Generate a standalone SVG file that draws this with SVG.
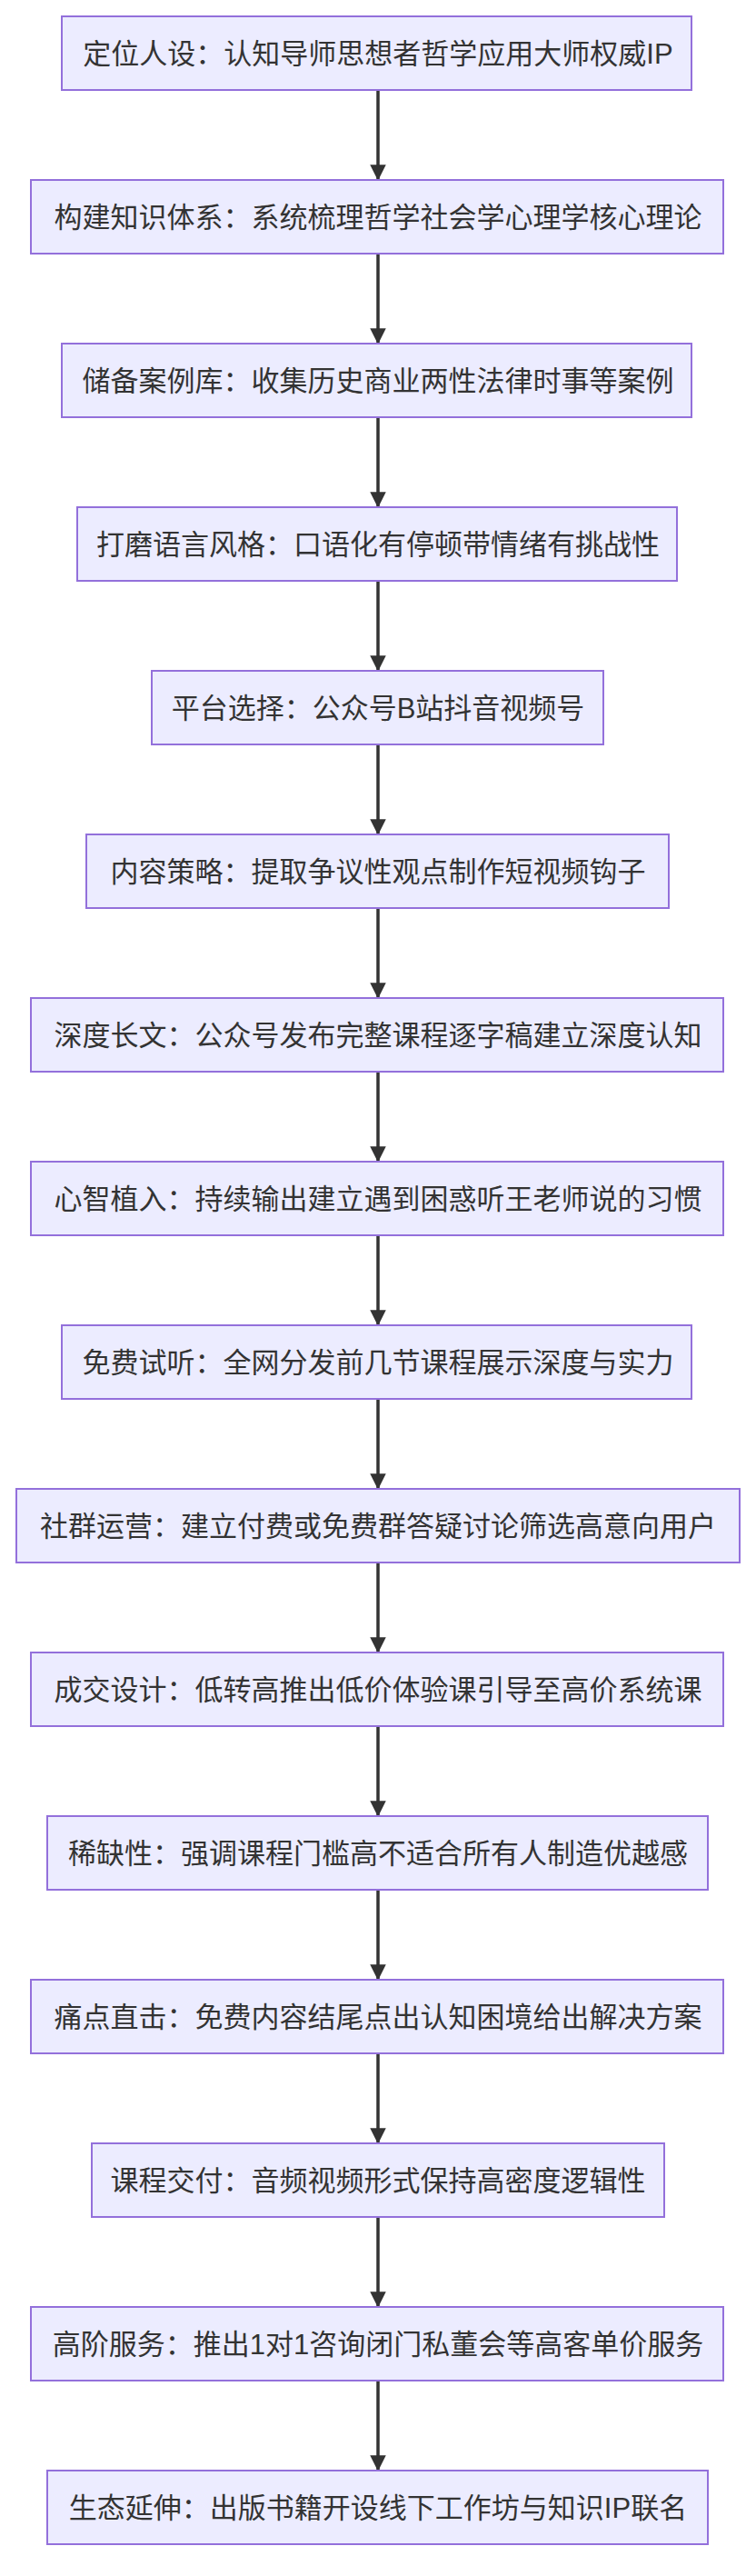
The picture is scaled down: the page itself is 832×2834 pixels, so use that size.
<svg xmlns="http://www.w3.org/2000/svg" width="832" height="2834" viewBox="0 0 832 2834">
<style>
.n rect{fill:#ECECFF;stroke:#9370DB;stroke-width:2}
.n text{font-family:"Liberation Sans","Noto Sans CJK SC",sans-serif;font-size:31px;fill:#333;text-anchor:middle;dominant-baseline:central}
.e line{stroke:#333;stroke-width:3.5;marker-end:url(#a)}
</style>
<defs><marker id="a" viewBox="0 0 10 10" refX="9" refY="5" markerWidth="5" markerHeight="5" orient="auto" markerUnits="strokeWidth"><path d="M0,0L10,5L0,10z" fill="#333"/></marker></defs>
<rect width="832" height="2834" fill="#fff"/>
<g class="e">
<line x1="416" y1="99" x2="416" y2="197"/>
<line x1="416" y1="279" x2="416" y2="377"/>
<line x1="416" y1="459" x2="416" y2="557"/>
<line x1="416" y1="639" x2="416" y2="737"/>
<line x1="416" y1="819" x2="416" y2="917"/>
<line x1="416" y1="999" x2="416" y2="1097"/>
<line x1="416" y1="1179" x2="416" y2="1277"/>
<line x1="416" y1="1359" x2="416" y2="1457"/>
<line x1="416" y1="1539" x2="416" y2="1637"/>
<line x1="416" y1="1719" x2="416" y2="1817"/>
<line x1="416" y1="1899" x2="416" y2="1997"/>
<line x1="416" y1="2079" x2="416" y2="2177"/>
<line x1="416" y1="2259" x2="416" y2="2357"/>
<line x1="416" y1="2439" x2="416" y2="2537"/>
<line x1="416" y1="2619" x2="416" y2="2717"/>
</g>
<g class="n" id="n1"><rect x="68" y="18" width="693" height="81"/><text x="416" y="59">定位人设：认知导师思想者哲学应用大师权威IP</text></g>
<g class="n" id="n2"><rect x="34" y="198" width="762" height="81"/><text x="416" y="239">构建知识体系：系统梳理哲学社会学心理学核心理论</text></g>
<g class="n" id="n3"><rect x="68" y="378" width="693" height="81"/><text x="416" y="419">储备案例库：收集历史商业两性法律时事等案例</text></g>
<g class="n" id="n4"><rect x="85" y="558" width="660" height="81"/><text x="416" y="599">打磨语言风格：口语化有停顿带情绪有挑战性</text></g>
<g class="n" id="n5"><rect x="167" y="738" width="497" height="81"/><text x="416" y="779">平台选择：公众号B站抖音视频号</text></g>
<g class="n" id="n6"><rect x="95" y="918" width="641" height="81"/><text x="416" y="959">内容策略：提取争议性观点制作短视频钩子</text></g>
<g class="n" id="n7"><rect x="34" y="1098" width="762" height="81"/><text x="416" y="1139">深度长文：公众号发布完整课程逐字稿建立深度认知</text></g>
<g class="n" id="n8"><rect x="34" y="1278" width="762" height="81"/><text x="416" y="1319">心智植入：持续输出建立遇到困惑听王老师说的习惯</text></g>
<g class="n" id="n9"><rect x="68" y="1458" width="693" height="81"/><text x="416" y="1499">免费试听：全网分发前几节课程展示深度与实力</text></g>
<g class="n" id="n10"><rect x="18" y="1638" width="796" height="81"/><text x="416" y="1679">社群运营：建立付费或免费群答疑讨论筛选高意向用户</text></g>
<g class="n" id="n11"><rect x="34" y="1818" width="762" height="81"/><text x="416" y="1859">成交设计：低转高推出低价体验课引导至高价系统课</text></g>
<g class="n" id="n12"><rect x="52" y="1998" width="727" height="81"/><text x="416" y="2039">稀缺性：强调课程门槛高不适合所有人制造优越感</text></g>
<g class="n" id="n13"><rect x="34" y="2178" width="762" height="81"/><text x="416" y="2219">痛点直击：免费内容结尾点出认知困境给出解决方案</text></g>
<g class="n" id="n14"><rect x="101" y="2358" width="630" height="81"/><text x="416" y="2399">课程交付：音频视频形式保持高密度逻辑性</text></g>
<g class="n" id="n15"><rect x="34" y="2538" width="762" height="81"/><text x="416" y="2579">高阶服务：推出1对1咨询闭门私董会等高客单价服务</text></g>
<g class="n" id="n16"><rect x="52" y="2718" width="727" height="81"/><text x="416" y="2759">生态延伸：出版书籍开设线下工作坊与知识IP联名</text></g>
</svg>
